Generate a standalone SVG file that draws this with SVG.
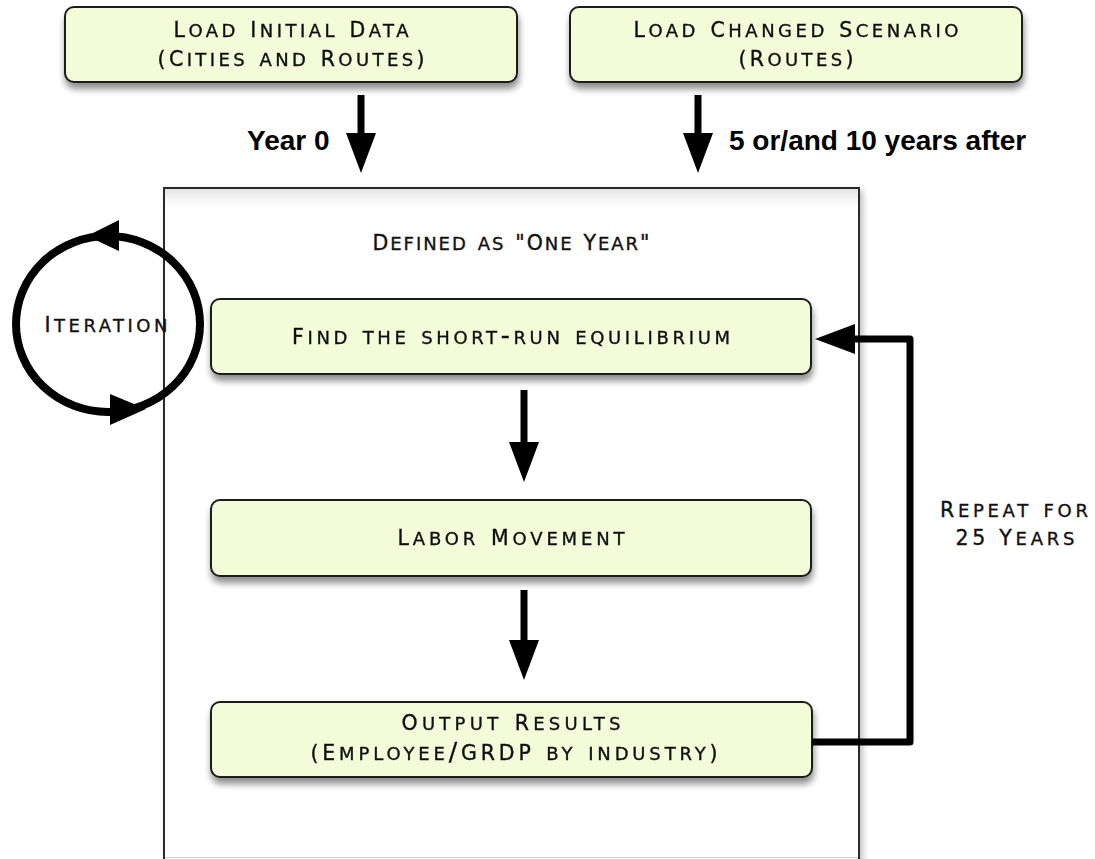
<svg xmlns="http://www.w3.org/2000/svg" width="1095" height="859" viewBox="0 0 1095 859">
  <defs>
    <style>
      .node rect { fill: #f4fbd8; stroke: #1c1c1c; stroke-width: 2; }
      .sc { font-family: "DejaVu Sans", "Liberation Sans", sans-serif; font-variant: small-caps; font-size: 25px; fill: #111; stroke: #111; stroke-width: 0.35; text-anchor: middle; }
      .C { font-size: 20.5px; }
      .lbl { font-family: "Liberation Sans", Arial, sans-serif; font-weight: bold; font-size: 28px; fill: #000; }
      .wire { fill: none; stroke: #000; stroke-width: 7; }
    </style>
    <filter id="shadow" x="-10%" y="-20%" width="120%" height="160%">
      <feGaussianBlur in="SourceAlpha" stdDeviation="3.5"/>
      <feOffset dx="1" dy="6" result="b"/>
      <feComponentTransfer><feFuncA type="linear" slope="0.45"/></feComponentTransfer>
      <feMerge><feMergeNode/><feMergeNode in="SourceGraphic"/></feMerge>
    </filter>
    <filter id="frameShadow" x="-5%" y="-5%" width="110%" height="110%">
      <feGaussianBlur in="SourceAlpha" stdDeviation="3"/>
      <feOffset dx="3" dy="3" result="b"/>
      <feComponentTransfer><feFuncA type="linear" slope="0.25"/></feComponentTransfer>
      <feMerge><feMergeNode/><feMergeNode in="SourceGraphic"/></feMerge>
    </filter>
    <linearGradient id="topShade" x1="0" y1="0" x2="0" y2="1">
      <stop offset="0" stop-color="#e2e2e2"/>
      <stop offset="1" stop-color="#ffffff" stop-opacity="0"/>
    </linearGradient>
    <marker id="head" markerUnits="userSpaceOnUse" markerWidth="40" markerHeight="30" refX="0" refY="15" orient="auto" overflow="visible">
      <path d="M0,0 L40,15 L0,30 Z" fill="#000"/>
    </marker>
  </defs>

  <rect width="1095" height="859" fill="#ffffff"/>

  <!-- one-year frame -->
  <g id="year-frame">
    <rect x="164" y="188" width="695" height="690" fill="#ffffff" stroke="#2a2a2a" stroke-width="2" filter="url(#frameShadow)"/>
    <rect x="165" y="189" width="693" height="26" fill="url(#topShade)"/>
    <line x1="165" y1="857.5" x2="858" y2="857.5" stroke="#cfcfcf" stroke-width="1"/>
    <text class="sc" x="511" y="250" textLength="277"><tspan class="C">D</tspan>efined as <tspan class="C">"O</tspan>ne <tspan class="C">Y</tspan>ear<tspan class="C">"</tspan></text>
  </g>

  <!-- input nodes -->
  <g id="load-initial" class="node" filter="url(#shadow)">
    <rect x="65" y="7" width="452" height="75" rx="9"/>
    <text class="sc" x="291" y="37" textLength="235"><tspan class="C">L</tspan>oad <tspan class="C">I</tspan>nitial <tspan class="C">D</tspan>ata</text>
    <text class="sc" x="291" y="66" textLength="267"><tspan class="C">(C</tspan>ities and <tspan class="C">R</tspan>outes<tspan class="C">)</tspan></text>
  </g>

  <g id="load-changed" class="node" filter="url(#shadow)">
    <rect x="570" y="7" width="452" height="75" rx="9"/>
    <text class="sc" x="796" y="37" textLength="325"><tspan class="C">L</tspan>oad <tspan class="C">C</tspan>hanged <tspan class="C">S</tspan>cenario</text>
    <text class="sc" x="796" y="66" textLength="115"><tspan class="C">(R</tspan>outes<tspan class="C">)</tspan></text>
  </g>

  <!-- steps inside the year -->
  <g id="short-run" class="node" filter="url(#shadow)">
    <rect x="211" y="299" width="600" height="75" rx="9"/>
    <text class="sc" x="511" y="344" textLength="438"><tspan class="C">F</tspan>ind the short-run equilibrium</text>
  </g>

  <g id="labor" class="node" filter="url(#shadow)">
    <rect x="211" y="500" width="600" height="76" rx="9"/>
    <text class="sc" x="511" y="545" textLength="227"><tspan class="C">L</tspan>abor <tspan class="C">M</tspan>ovement</text>
  </g>

  <g id="output" class="node" filter="url(#shadow)">
    <rect x="211" y="702" width="601" height="75" rx="9"/>
    <text class="sc" x="511" y="730" textLength="219"><tspan class="C">O</tspan>utput <tspan class="C">R</tspan>esults</text>
    <text class="sc" x="514" y="760" textLength="407"><tspan class="C">(E</tspan>mployee/<tspan class="C">GRDP</tspan> by industry<tspan class="C">)</tspan></text>
  </g>

  <!-- iteration loop -->
  <g id="iteration">
    <ellipse cx="108" cy="324" rx="92" ry="88" fill="none" stroke="#000" stroke-width="8"/>
    <polygon points="87,236 119,220 119,251" fill="#000"/>
    <polygon points="146,409 110,394 110,425" fill="#000"/>
    <text class="sc" x="106" y="332" textLength="123"><tspan class="C">I</tspan>teration</text>
  </g>

  <!-- repeat label -->
  <g id="repeat-label">
    <text class="sc" x="1014" y="517" textLength="148"><tspan class="C">R</tspan>epeat for</text>
    <text class="sc" x="1015" y="545" textLength="119"><tspan class="C">25 Y</tspan>ears</text>
  </g>

  <!-- connectors -->
  <g id="connectors">
    <line class="wire" x1="361" y1="95" x2="361" y2="133" marker-end="url(#head)"/>
    <line class="wire" x1="698" y1="95" x2="698" y2="133" marker-end="url(#head)"/>
    <line class="wire" x1="524" y1="390" x2="524" y2="442" marker-end="url(#head)"/>
    <line class="wire" x1="524" y1="590" x2="524" y2="640" marker-end="url(#head)"/>
    <path class="wire" d="M812,742 H910 V339 H855" stroke-linejoin="round" marker-end="url(#head)"/>
  </g>

  <!-- transition labels -->
  <text class="lbl" x="247" y="150">Year 0</text>
  <text class="lbl" x="729" y="150">5 or/and 10 years after</text>
</svg>
